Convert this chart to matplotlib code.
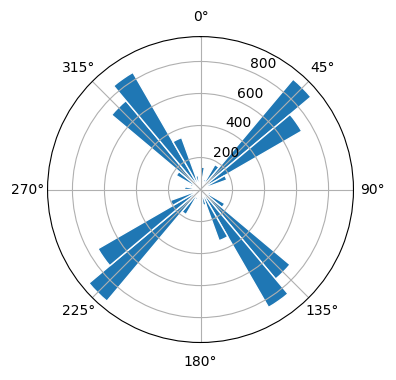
import numpy as np
import matplotlib
matplotlib.use("Agg")
import matplotlib.pyplot as plt

# 36 direction bins, 10 degrees each, starting at north
bin_start_deg = list(range(0, 360, 10))
counts = [140, 60, 70, 180, 900, 730, 175, 60, 50,
          40, 60, 70, 175, 730, 850, 340, 100, 40,
          60, 50, 70, 180, 910, 740, 200, 60, 40,
          100, 50, 70, 175, 725, 845, 345, 90, 40]

fig = plt.figure(figsize=(3.96, 3.8), dpi=100)
ax = fig.add_axes([0.12, 0.0987, 0.7727, 0.805], projection="polar")
ax.set_theta_zero_location("N")
ax.set_theta_direction(-1)

theta = np.deg2rad(bin_start_deg)
width = np.deg2rad(10)
ax.bar(theta, counts, width=width, align="edge", color="C0",
       edgecolor="white", linewidth=1)

fig.savefig("out.png", dpi=100)
